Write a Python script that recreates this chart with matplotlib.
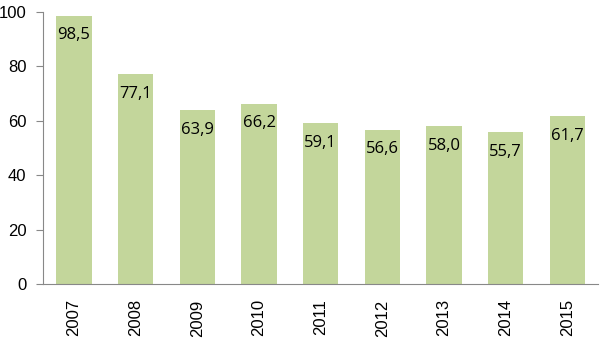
import matplotlib.pyplot as plt

years = ['2007', '2008', '2009', '2010', '2011', '2012', '2013', '2014', '2015']
values = [98.5, 77.1, 63.9, 66.2, 59.1, 56.6, 58.0, 55.7, 61.7]
labels = ['98,5', '77,1', '63,9', '66,2', '59,1', '56,6', '58,0', '55,7', '61,7']

fig = plt.figure(figsize=(6, 3.41), dpi=100)
ax = fig.add_axes([0.072, 0.167, 0.925, 0.798])

x = range(len(years))
bars = ax.bar(x, values, width=0.57, color='#C3D69B')

for b, lab in zip(bars, labels):
    ax.annotate(lab, (b.get_x() + b.get_width() / 2, b.get_height()),
                xytext=(0, -14), textcoords='offset points',
                ha='center', va='center', fontsize=12,
                family=['Open Sans', 'DejaVu Sans'], color='black')

ax.set_xlim(-0.5, len(years) - 0.5)
ax.set_ylim(0, 100)
ax.set_yticks([0, 20, 40, 60, 80, 100])
ax.set_xticks(list(x))
ax.set_xticklabels(years, rotation=90, family='Liberation Sans', fontsize=12)
for t in ax.get_yticklabels():
    t.set_family('Liberation Sans')
    t.set_fontsize(12)

for s in ['top', 'right']:
    ax.spines[s].set_visible(False)
ax.spines['left'].set_color('#888888')
ax.spines['bottom'].set_color('#888888')
ax.tick_params(axis='y', length=5, color='#888888', pad=7)
ax.tick_params(axis='x', length=0, pad=11)

fig.savefig('out.png', dpi=100)
